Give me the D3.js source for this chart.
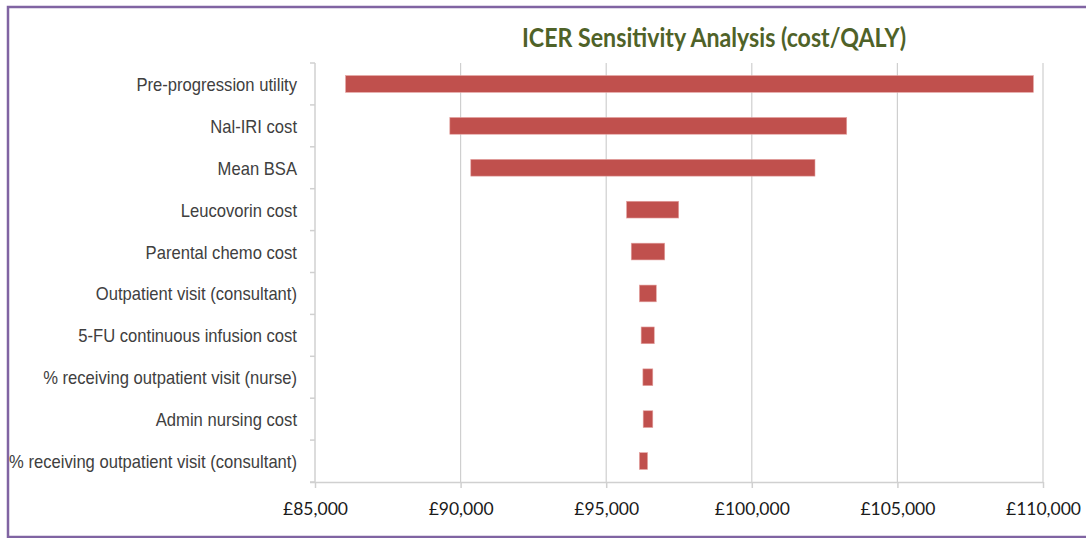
<!DOCTYPE html>
<html>
<head>
<meta charset="utf-8">
<script src="https://cdn.jsdelivr.net/npm/d3@7"></script>
<style>
  html, body { margin: 0; padding: 0; background: #fff; }
  svg { display: block; }
</style>
</head>
<body>
<svg id="chart" width="1086" height="538"></svg>
<script>
// ---- data ----
const categories = [
  "Pre-progression utility",
  "Nal-IRI cost",
  "Mean BSA",
  "Leucovorin cost",
  "Parental chemo cost",
  "Outpatient visit (consultant)",
  "5-FU continuous infusion cost",
  "% receiving outpatient visit (nurse)",
  "Admin nursing cost",
  "% receiving outpatient visit (consultant)"
];
const lowValues  = [86050, 89630, 90350, 95700, 95860, 96140, 96200, 96260, 96270, 96140];
const highValues = [109670, 103260, 102170, 97490, 97010, 96720, 96650, 96600, 96600, 96420];
const xTicks = [85000, 90000, 95000, 100000, 105000, 110000];
const title = "ICER Sensitivity Analysis (cost/QALY)";

// ---- layout ----
const svg = d3.select("#chart");
const plot = { left: 315, right: 1043, top: 63, bottom: 482 };

// frame
svg.append("rect")
  .attr("x", 8).attr("y", 7).attr("width", 1090).attr("height", 530)
  .attr("fill", "#fff").attr("stroke", "#8064a2").attr("stroke-width", 2.5);

const x = d3.scaleLinear().domain([85000, 110000]).range([plot.left, plot.right]);
const y = d3.scaleBand().domain(categories).range([plot.top, plot.bottom]).padding(0);
const step = y.step();

// gridlines
svg.append("g").selectAll("line")
  .data(xTicks.slice(1))
  .join("line")
  .attr("x1", d => x(d)).attr("x2", d => x(d))
  .attr("y1", plot.top).attr("y2", plot.bottom)
  .attr("stroke", "#cfcfcf").attr("stroke-width", 1.2);

// bars
svg.append("g").selectAll("rect")
  .data(categories)
  .join("rect")
  .attr("x", (d, i) => x(lowValues[i]))
  .attr("width", (d, i) => x(highValues[i]) - x(lowValues[i]))
  .attr("y", d => y(d) + step * 0.3)
  .attr("height", step * 0.4)
  .attr("fill", "#c0504d")
  .attr("stroke", "#e4a3a1").attr("stroke-width", 0.6);

// x axis
const xAxis = svg.append("g")
  .attr("transform", `translate(0,${plot.bottom})`)
  .call(d3.axisBottom(x).tickValues(xTicks).tickSize(6).tickSizeOuter(0)
    .tickFormat(d => "£" + d3.format(",")(d)));
xAxis.select(".domain").attr("stroke", "#d0d0d0").attr("stroke-width", 1.5)
  .attr("d", `M${plot.left - 5},0.5H${plot.right}`);
xAxis.selectAll(".tick line").attr("stroke", "#d0d0d0").attr("stroke-width", 1.5);
xAxis.selectAll(".tick text")
  .attr("y", 33).attr("dy", 0)
  .attr("fill", "#1a1a1a")
  .style("font-family", "Lato, 'Open Sans', sans-serif")
  .style("font-size", "17.5px");

// y axis (category boundaries)
const yg = svg.append("g");
yg.append("line")
  .attr("x1", plot.left).attr("x2", plot.left)
  .attr("y1", plot.top).attr("y2", plot.bottom)
  .attr("stroke", "#d0d0d0").attr("stroke-width", 1.5);
const bounds = categories.map(c => y(c)).concat([y.range()[1]]);
yg.selectAll("line.tk")
  .data(bounds)
  .join("line")
  .attr("class", "tk")
  .attr("x1", plot.left - 5).attr("x2", plot.left)
  .attr("y1", d => d).attr("y2", d => d)
  .attr("stroke", "#d0d0d0").attr("stroke-width", 1.5);

yg.selectAll("text")
  .data(categories)
  .join("text")
  .attr("transform", d => `translate(297,${y(d) + step / 2 + 7}) scale(0.923,1)`)
  .attr("text-anchor", "end")
  .attr("fill", "#404040")
  .style("font-family", "'Liberation Sans', Arial, sans-serif")
  .style("font-size", "18px")
  .text(d => d);

// title
svg.append("text")
  .attr("x", 522).attr("y", 47)
  .attr("fill", "#4f6228")
  .attr("textLength", 384)
  .attr("lengthAdjust", "spacingAndGlyphs")
  .style("font-family", "Lato, 'Open Sans', sans-serif")
  .style("font-weight", "bold")
  .style("font-size", "26px")
  .text(title);
</script>
</body>
</html>
